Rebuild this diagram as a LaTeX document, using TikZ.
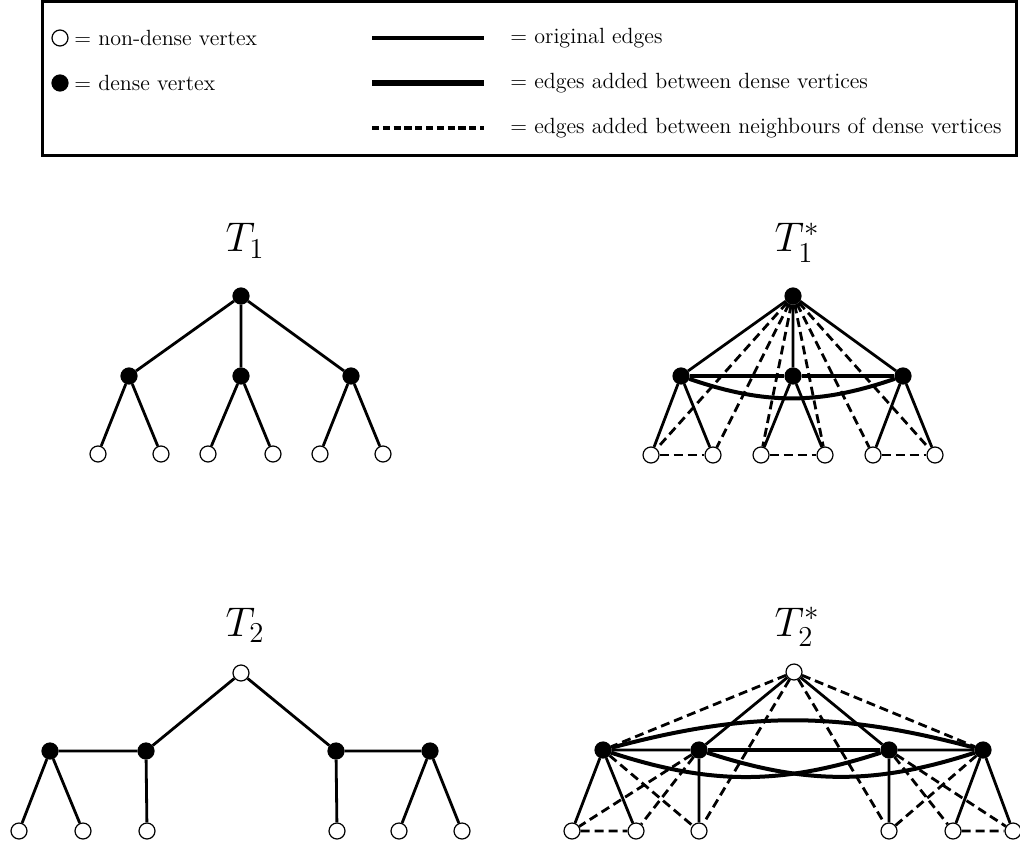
\documentclass[tikz,border=0pt]{standalone}
\usepackage{tikz}

\begin{document}
\begin{tikzpicture}[x=0.5pt,y=-0.5pt,
  dense/.style={circle,draw,fill=black,inner sep=0pt,minimum size=8pt,line width=0.6pt},
  sparse/.style={circle,draw,fill=white,inner sep=0pt,minimum size=8pt,line width=0.6pt},
  orig/.style={line width=1.4pt},
  added/.style={line width=2pt},
  nbr/.style={line width=1.4pt,dash pattern=on 4.5pt off 2.5pt},
  title/.style={anchor=base,font=\fontsize{22}{26}\selectfont},
  keytext/.style={anchor=west,inner sep=0pt,font=\fontsize{11}{13}\selectfont}]
\useasboundingbox (0,0) rectangle (1020,844);

% key
\draw[line width=1.5pt] (42,2) rectangle (1016,156);
\node[sparse] (ks) at (60,38) {};
\node[dense]  (kd) at (60,83) {};
\node[keytext] (kst) at (74,38) {= non-dense vertex};
\node[keytext] (kdt) at (74,83) {= dense vertex};
\coordinate (ko1) at (372,38);  \coordinate (ko2) at (484,38);
\coordinate (ka1) at (372,83);  \coordinate (ka2) at (484,83);
\coordinate (kn1) at (372,128); \coordinate (kn2) at (484,128);
\draw[orig,line width=1.6pt] (ko1) -- (ko2);
\draw[added,line width=2.6pt] (ka1) -- (ka2);
\draw[nbr,line width=1.8pt,dash pattern=on 3.6pt off 1.8pt] (kn1) -- (kn2);
\node[keytext] (kot) at (510,38)  {= original edges};
\node[keytext] (kat) at (510,83)  {= edges added between dense vertices};
\node[keytext] (knt) at (510,128) {= edges added between neighbours of dense vertices};

% T1
\node[title] (t1) at (245,252) {$T_1$};
\node[dense] (r) at (241,296) {};
\node[dense] (a) at (129,376) {};
\node[dense] (b) at (241,376) {};
\node[dense] (c) at (351,376) {};
\node[sparse] (a1) at (98,454) {};
\node[sparse] (a2) at (161,454) {};
\node[sparse] (b1) at (208,454) {};
\node[sparse] (b2) at (273,454) {};
\node[sparse] (c1) at (320,454) {};
\node[sparse] (c2) at (383,454) {};
\draw[orig] (a)--(r)--(c) (r)--(b);
\draw[orig] (a1)--(a)--(a2) (b1)--(b)--(b2) (c1)--(c)--(c2);

% T1*
\node[title] (t1s) at (797,252) {$T_1^*$};
\node[dense] (rs) at (793,296) {};
\node[dense] (as) at (681,376) {};
\node[dense] (bs) at (793,376) {};
\node[dense] (cs) at (903,376) {};
\node[sparse] (as1) at (651,455) {};
\node[sparse] (as2) at (713,455) {};
\node[sparse] (bs1) at (761,455) {};
\node[sparse] (bs2) at (825,455) {};
\node[sparse] (cs1) at (873,455) {};
\node[sparse] (cs2) at (935,455) {};
\draw[nbr] (rs)--(as1) (rs)--(as2) (rs)--(bs1) (rs)--(bs2) (rs)--(cs1) (rs)--(cs2);
\draw[nbr] (as1)--(as2) (bs1)--(bs2) (cs1)--(cs2);
\draw[orig] (as)--(rs)--(cs) (rs)--(bs);
\draw[orig] (as1)--(as)--(as2) (bs1)--(bs)--(bs2) (cs1)--(cs)--(cs2);
\draw[added] (as)--(bs)--(cs);
\draw[added] (as) to[bend right=19] (cs);

% T2
\node[title] (t2) at (245,636) {$T_2$};
\node[sparse] (q) at (241,673) {};
\node[dense] (m1) at (50,751) {};
\node[dense] (m2) at (146,751) {};
\node[dense] (m3) at (336,751) {};
\node[dense] (m4) at (430,751) {};
\node[sparse] (p1) at (19,831) {};
\node[sparse] (p2) at (83,831) {};
\node[sparse] (p3) at (147,831) {};
\node[sparse] (p4) at (337,831) {};
\node[sparse] (p5) at (399,831) {};
\node[sparse] (p6) at (462,831) {};
\draw[orig] (m1)--(m2)--(q)--(m3)--(m4);
\draw[orig] (p1)--(m1)--(p2) (m2)--(p3) (m3)--(p4) (p5)--(m4)--(p6);

% T2*
\node[title] (t2s) at (797,636) {$T_2^*$};
\node[sparse] (qs) at (794,672) {};
\node[dense] (ms1) at (603,750) {};
\node[dense] (ms2) at (699,750) {};
\node[dense] (ms3) at (889,750) {};
\node[dense] (ms4) at (983,750) {};
\node[sparse] (ps1) at (572,831) {};
\node[sparse] (ps2) at (636,831) {};
\node[sparse] (ps3) at (699,831) {};
\node[sparse] (ps4) at (889,831) {};
\node[sparse] (ps5) at (953,831) {};
\node[sparse] (ps6) at (1013,831) {};
\draw[nbr] (qs)--(ms1) (qs)--(ms4) (qs)--(ps3) (qs)--(ps4);
\draw[nbr] (ms1)--(ps3) (ms2)--(ps1) (ms2)--(ps2) (ps1)--(ps2);
\draw[nbr] (ms4)--(ps4) (ms3)--(ps5) (ms3)--(ps6) (ps5)--(ps6);
\draw[orig] (ms1)--(ms2)--(qs)--(ms3)--(ms4);
\draw[orig] (ps1)--(ms1)--(ps2) (ms2)--(ps3) (ms3)--(ps4) (ps5)--(ms4)--(ps6);
\draw[added] (ms2)--(ms3);
\draw[added] (ms1) to[bend left=15] (ms4);
\draw[added] (ms1) to[bend right=18] (ms3);
\draw[added] (ms2) to[bend right=18] (ms4);
\end{tikzpicture}
\end{document}
